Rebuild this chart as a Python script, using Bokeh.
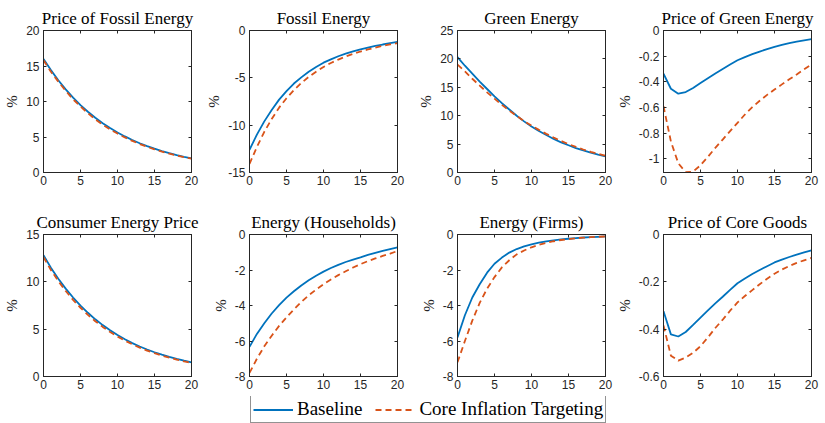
from bokeh.plotting import figure
from bokeh.models import FixedTicker, LinearAxis, Range1d, Legend, LegendItem, ColumnDataSource
from bokeh.layouts import column, row
from bokeh.embed import file_html
from bokeh.resources import INLINE

# ---------------- data ----------------
quarters = list(range(21))

titles = ["Price of Fossil Energy", "Fossil Energy", "Green Energy", "Price of Green Energy",
          "Consumer Energy Price", "Energy (Households)", "Energy (Firms)", "Price of Core Goods"]

price_fossil_base = [16.0, 14.42, 12.99, 11.70, 10.54, 9.50, 8.56, 7.71, 6.95, 6.26, 5.64,
                     5.08, 4.58, 4.12, 3.72, 3.35, 3.02, 2.72, 2.45, 2.21, 1.99]
price_fossil_cit = [15.8, 14.2, 12.8, 11.5, 10.3, 9.3, 8.35, 7.5, 6.75, 6.08, 5.48,
                    4.94, 4.45, 4.01, 3.62, 3.27, 2.95, 2.66, 2.40, 2.16, 1.95]

fossil_base = [-12.6, -11.0, -9.6, -8.4, -7.3, -6.4, -5.6, -4.95, -4.35, -3.85, -3.4,
               -3.05, -2.72, -2.45, -2.2, -2.0, -1.8, -1.63, -1.48, -1.34, -1.2]
fossil_cit = [-14.1, -12.3, -10.7, -9.35, -8.15, -7.15, -6.3, -5.55, -4.9, -4.35, -3.85,
              -3.43, -3.07, -2.75, -2.47, -2.22, -2.0, -1.8, -1.62, -1.47, -1.33]

green_base = [20.3, 18.8, 17.4, 16.0, 14.7, 13.4, 12.2, 11.1, 10.0, 9.0, 8.1,
              7.3, 6.6, 5.9, 5.3, 4.8, 4.3, 3.9, 3.5, 3.15, 2.85]
green_cit = [19.0, 17.8, 16.5, 15.3, 14.1, 13.0, 11.9, 10.9, 9.95, 9.05, 8.25,
             7.5, 6.8, 6.15, 5.55, 5.0, 4.5, 4.05, 3.65, 3.3, 2.95]

price_green_base = [-0.337, -0.454, -0.493, -0.48, -0.448, -0.41, -0.372, -0.335, -0.30, -0.265, -0.232,
                    -0.207, -0.184, -0.164, -0.145, -0.128, -0.112, -0.099, -0.087, -0.077, -0.068]
price_green_cit = [-0.59, -0.865, -1.035, -1.105, -1.1, -1.05, -0.985, -0.915, -0.85, -0.785, -0.72,
                   -0.655, -0.598, -0.548, -0.502, -0.46, -0.42, -0.38, -0.343, -0.303, -0.264]

consumer_price_base = [12.8, 11.5, 10.33, 9.28, 8.34, 7.49, 6.73, 6.04, 5.43, 4.88, 4.38,
                       3.93, 3.53, 3.17, 2.85, 2.56, 2.30, 2.07, 1.86, 1.67, 1.50]
consumer_price_cit = [12.6, 11.25, 10.08, 9.03, 8.1, 7.26, 6.51, 5.84, 5.24, 4.7, 4.22,
                      3.79, 3.4, 3.05, 2.74, 2.46, 2.21, 1.99, 1.78, 1.6, 1.43]

energy_hh_base = [-6.33, -5.6, -5.0, -4.45, -3.98, -3.56, -3.2, -2.87, -2.58, -2.32, -2.09,
                  -1.89, -1.71, -1.55, -1.41, -1.29, -1.15, -1.03, -0.92, -0.82, -0.73]
energy_hh_cit = [-7.8, -7.0, -6.3, -5.7, -5.15, -4.67, -4.22, -3.8, -3.43, -3.1, -2.8,
                 -2.53, -2.29, -2.07, -1.86, -1.67, -1.5, -1.35, -1.21, -1.08, -0.93]

energy_firms_base = [-5.8, -4.55, -3.55, -2.8, -2.15, -1.65, -1.3, -1.02, -0.82, -0.67, -0.56,
                     -0.46, -0.39, -0.33, -0.28, -0.24, -0.2, -0.17, -0.15, -0.13, -0.11]
energy_firms_cit = [-7.2, -6.0, -4.85, -3.85, -3.05, -2.4, -1.85, -1.45, -1.12, -0.9, -0.72,
                    -0.58, -0.47, -0.38, -0.31, -0.26, -0.21, -0.18, -0.15, -0.13, -0.11]

core_price_base = [-0.324, -0.422, -0.431, -0.412, -0.382, -0.351, -0.321, -0.291, -0.263, -0.234, -0.206,
                   -0.186, -0.167, -0.15, -0.134, -0.118, -0.106, -0.095, -0.085, -0.076, -0.067]
core_price_cit = [-0.384, -0.512, -0.533, -0.52, -0.5, -0.472, -0.435, -0.395, -0.36, -0.322, -0.287,
                  -0.26, -0.235, -0.21, -0.187, -0.166, -0.148, -0.133, -0.12, -0.109, -0.099]

baseline_series = [price_fossil_base, fossil_base, green_base, price_green_base,
                   consumer_price_base, energy_hh_base, energy_firms_base, core_price_base]
cit_series = [price_fossil_cit, fossil_cit, green_cit, price_green_cit,
              consumer_price_cit, energy_hh_cit, energy_firms_cit, core_price_cit]

y_limits = [(0, 20), (-15, 0), (0, 25), (-1.107, 0), (0, 15), (-8, 0), (-8, 0), (-0.6, 0)]
y_ticks = [[0, 5, 10, 15, 20], [-15, -10, -5, 0], [0, 5, 10, 15, 20, 25],
           [-1, -0.8, -0.6, -0.4, -0.2, 0], [0, 5, 10, 15], [-8, -6, -4, -2, 0],
           [-8, -6, -4, -2, 0], [-0.6, -0.4, -0.2, 0]]
y_tick_labels = [["0", "5", "10", "15", "20"], ["-15", "-10", "-5", "0"], ["0", "5", "10", "15", "20", "25"],
                 ["-1", "-0.8", "-0.6", "-0.4", "-0.2", "0"], ["0", "5", "10", "15"],
                 ["-8", "-6", "-4", "-2", "0"], ["-8", "-6", "-4", "-2", "0"], ["-0.6", "-0.4", "-0.2", "0"]]
x_ticks = [0, 5, 10, 15, 20]
x_tick_labels = ["0", "5", "10", "15", "20"]
y_label = "%"
legend_labels = ["Baseline", "Core Inflation Targeting"]

# ---------------- style ----------------
BLUE = "#0072BD"
ORANGE = "#D95319"
AX = "#262626"
SERIF = "Liberation Serif"
SANS = "Liberation Sans"

left_borders = [43, 46, 52, 50]
right_borders = [12, 8, 8, 14]
top_borders = [30, 24]
bottom_borders = [36, 20]
FW, FH = 148, 142


def style_axis(ax, ticks, labels, show_labels=True):
    ax.ticker = FixedTicker(ticks=ticks)
    ax.major_label_overrides = {t: l for t, l in zip(ticks, labels)}
    ax.major_tick_in = 3
    ax.major_tick_out = 0
    ax.minor_tick_line_color = None
    ax.major_tick_line_color = AX
    ax.axis_line_color = AX
    ax.major_label_text_color = AX
    ax.major_label_text_font = SANS
    if show_labels:
        ax.major_label_text_font_size = "12px"
    else:
        ax.major_label_text_font_size = "0px"
        ax.major_label_standoff = 0


figs = []
for i in range(8):
    r, c = divmod(i, 4)
    p = figure(frame_width=FW, frame_height=FH,
               x_range=Range1d(0, 20), y_range=Range1d(*y_limits[i]),
               output_backend="svg", toolbar_location=None,
               min_border_left=left_borders[c], min_border_right=right_borders[c],
               min_border_top=top_borders[r], min_border_bottom=bottom_borders[r],
               title=titles[i])
    p.title.text_font = SERIF
    p.title.text_font_size = "17px"
    p.title.text_font_style = "normal"
    p.title.text_color = "black"
    p.title.align = "center"
    p.title.standoff = 5
    p.grid.visible = False
    p.outline_line_color = AX
    p.outline_line_width = 1
    p.background_fill_color = "white"

    xa = p.below[0]
    style_axis(xa, x_ticks, x_tick_labels)
    xa.major_label_standoff = 3
    ya = p.left[0]
    style_axis(ya, y_ticks[i], y_tick_labels[i])
    ya.major_label_standoff = 4
    ya.axis_label = y_label
    ya.axis_label_text_font = SERIF
    ya.axis_label_text_font_style = "normal"
    ya.axis_label_text_font_size = "15px"
    ya.axis_label_text_color = AX
    ya.axis_label_standoff = 3

    xt = LinearAxis()
    style_axis(xt, x_ticks, ["" for _ in x_ticks], show_labels=False)
    p.add_layout(xt, "above")
    yr = LinearAxis()
    style_axis(yr, y_ticks[i], ["" for _ in y_ticks[i]], show_labels=False)
    p.add_layout(yr, "right")

    p.line(quarters, baseline_series[i], line_color=BLUE, line_width=1.8)
    p.line(quarters, cit_series[i], line_color=ORANGE, line_width=1.8, line_dash="6 4")
    figs.append(p)

# ---------------- legend strip ----------------
total_w = sum(left_borders) + sum(right_borders) + 4 * FW
lf = figure(width=total_w, height=29, output_backend="svg", toolbar_location=None,
            x_range=Range1d(0, 1), y_range=Range1d(0, 1), min_border=0)
lf.axis.visible = False
lf.grid.visible = False
lf.outline_line_color = None
nan = float("nan")
hidden = ColumnDataSource(dict(x=[nan], y=[nan]))
r1 = lf.line("x", "y", source=hidden, line_color=BLUE, line_width=1.8)
r2 = lf.line("x", "y", source=hidden, line_color=ORANGE, line_width=1.8, line_dash="6 4")
leg = Legend(items=[LegendItem(label=legend_labels[0], renderers=[r1]),
                    LegendItem(label=legend_labels[1], renderers=[r2])],
             orientation="horizontal", location=(250, 2))
leg.border_line_color = AX
leg.border_line_width = 1
leg.background_fill_color = "white"
leg.background_fill_alpha = 1
leg.padding = 2
leg.spacing = 13
leg.margin = 0
leg.label_standoff = 4
leg.glyph_width = 40
leg.glyph_height = 17
leg.label_height = 17
leg.label_text_font = SERIF
leg.label_text_font_size = "19px"
leg.label_text_color = "black"
lf.add_layout(leg)

layout = column(row(*figs[:4]), row(*figs[4:]), lf)

open("out.html", "w").write(file_html(layout, INLINE))
